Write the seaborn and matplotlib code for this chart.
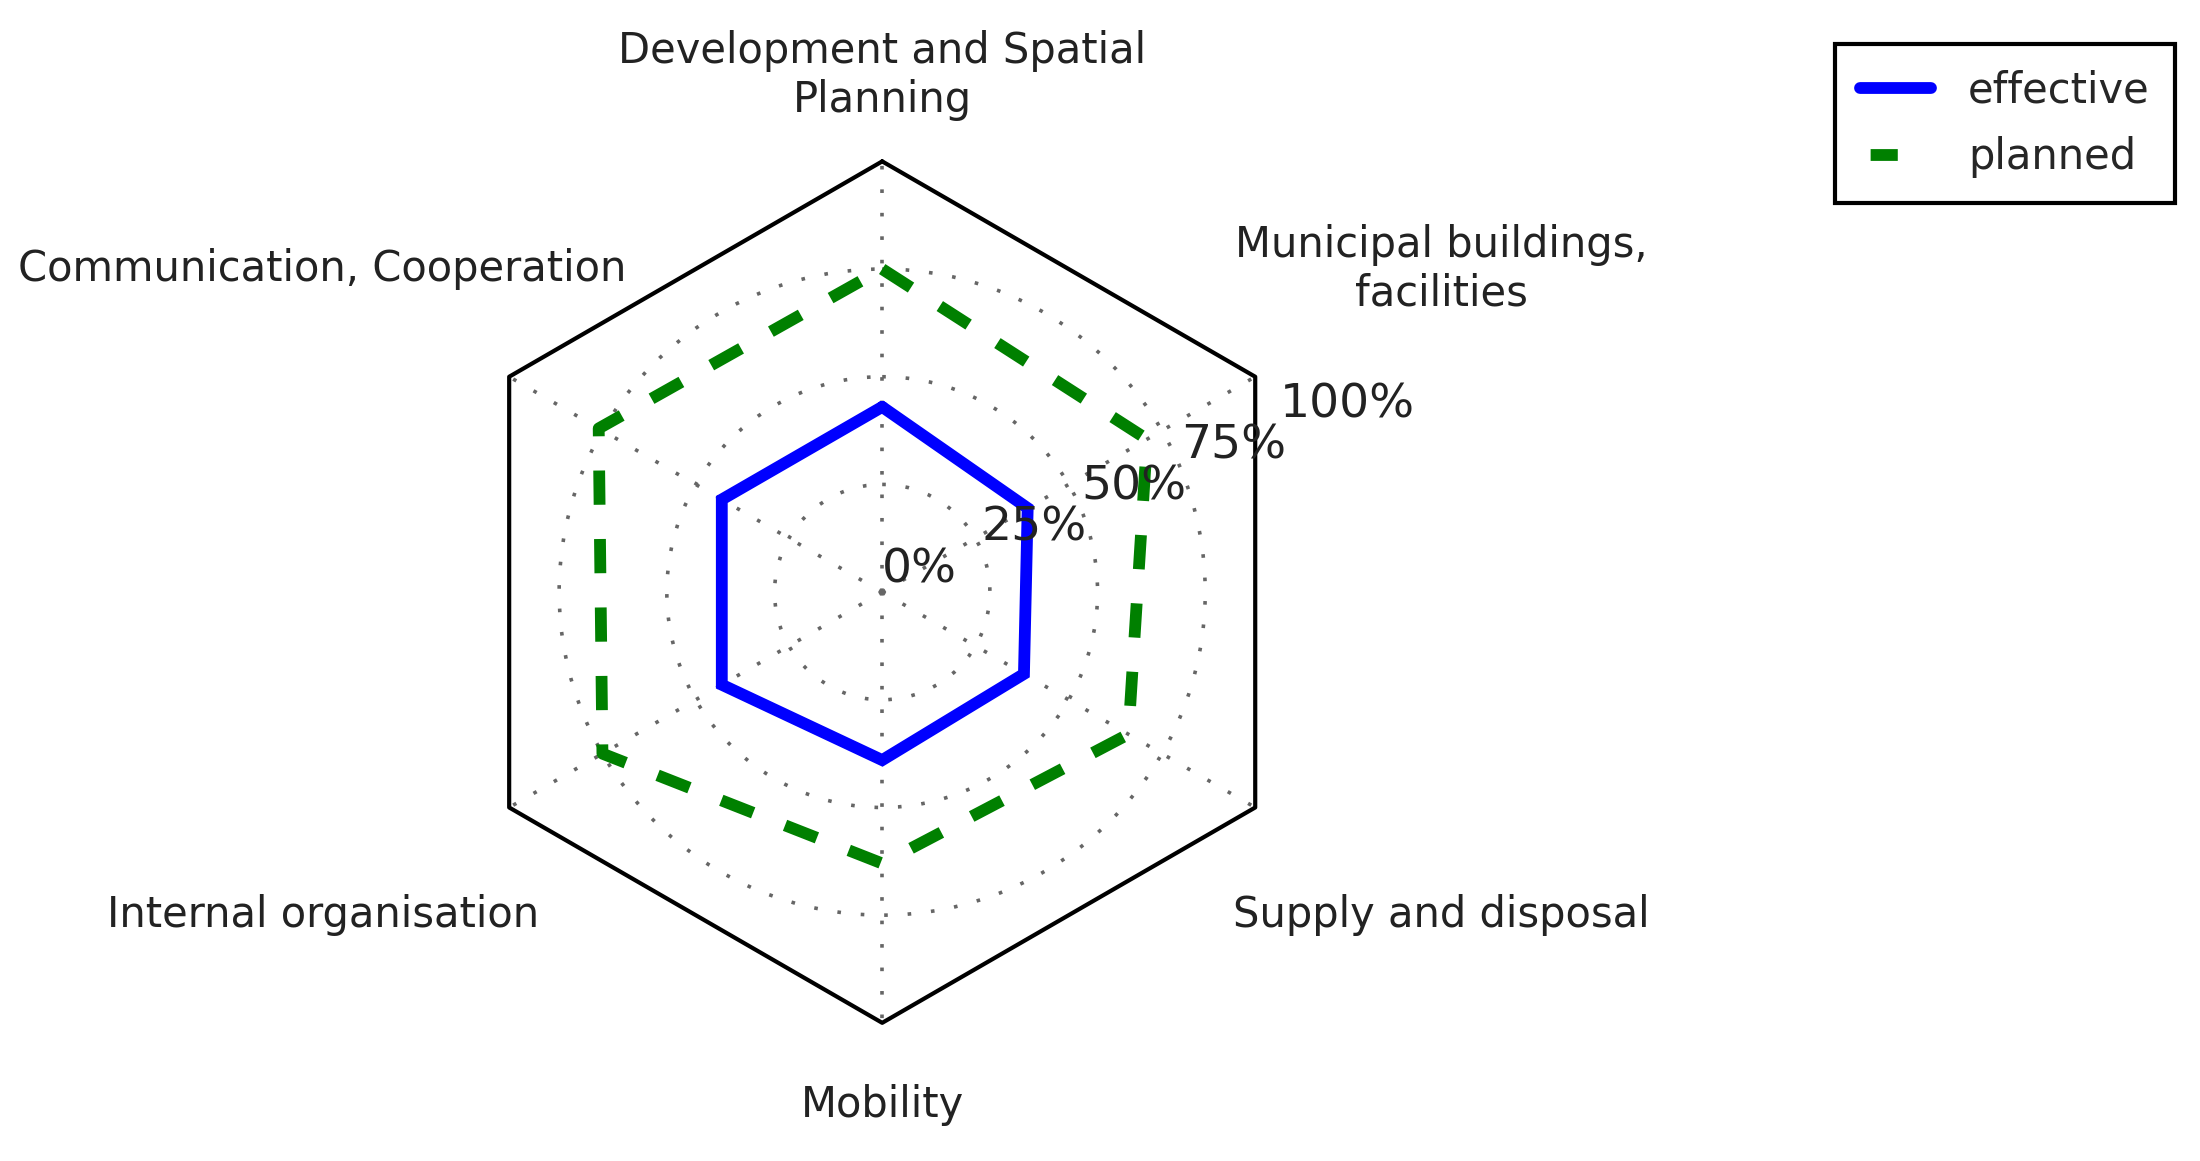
import numpy as np
import pandas as pd
import matplotlib
matplotlib.use("Agg")
import matplotlib.pyplot as plt
from matplotlib.lines import Line2D
import seaborn as sns

# categories clockwise from the top
categories = ["Development and Spatial\nPlanning",
              "Municipal buildings,\nfacilities",
              "Supply and disposal",
              "Mobility",
              "Internal organisation",
              "Communication, Cooperation"]
effective = [43, 39, 38, 39, 43, 43]   # percent
planned = [75, 71, 66, 63, 75, 76]     # percent
series_names = ["effective", "planned"]
tick_values = [0, 25, 50, 75, 100]
tick_labels = ["0%", "25%", "50%", "75%", "100%"]

sns.set_style("white")
plt.rcParams["font.family"] = ["DejaVu Sans"]

n = len(categories)
angles = np.linspace(0, 2 * np.pi, n, endpoint=False)

# long table, polygons closed by repeating the first point
rows = []
for name, vals in zip(series_names, [effective, planned]):
    for i in range(n + 1):
        rows.append({"theta": angles[i % n] if i < n else 2 * np.pi,
                     "r": vals[i % n] / 100.0, "series": name})
df = pd.DataFrame(rows)

fig = plt.figure(figsize=(22, 11.61), dpi=100)
ax = fig.add_axes([0.205, 0.119, 0.392, 0.742], projection="polar")
ax.set_theta_zero_location("N")
ax.set_theta_direction(-1)
ax.set_ylim(0, 1)

LW = 8.5
DASH = (2.9, 2.9)
colors = {"effective": "#0000ff", "planned": "#008000"}
sns.lineplot(data=df, x="theta", y="r", hue="series", style="series",
             palette=colors, dashes={"effective": "", "planned": DASH},
             sort=False, estimator=None, ax=ax, legend=False)
lines = list(ax.lines[:2])
for ln in lines:
    ln.set_linewidth(LW)
    ln.set_solid_joinstyle("miter")
lines[1].set_dashes(DASH)

# hexagonal frame
ax.plot(np.append(angles, 2 * np.pi), [1.0] * (n + 1), color="black",
        linewidth=3.0, clip_on=False)
ax.spines["polar"].set_visible(False)
ax.patch.set_visible(False)

ax.set_xticks(angles)
ax.set_xticklabels([])
ax.set_yticks([v / 100.0 for v in tick_values[1:-1]])
ax.set_yticklabels([])
ax.tick_params(length=0)
ax.grid(True, color="0.4", linestyle=(0, (1, 5.5)), linewidth=2.6)
ax.set_xlabel("")
ax.set_ylabel("")

# category labels
label_r = [1.20, 1.50, 1.50, 1.19, 1.50, 1.50]
for a, lab, rr in zip(angles, categories, label_r):
    ax.text(a, rr, lab, ha="center", va="center", fontsize=30,
            color="#222222", multialignment="center")

# radial value labels
lab_angle = np.deg2rad(67.5)
for v, lab in zip(tick_values, tick_labels):
    ax.text(lab_angle, v / 100.0, lab, ha="left", va="bottom", fontsize=34,
            color="#222222")

# legend: the dashed handle shows a single short dash, as in the original
leg_handles = [Line2D([], [], color=colors["effective"], linewidth=LW),
               Line2D([], [], color=colors["planned"], linewidth=LW,
                      linestyle=(11.4, (2.3, 10.0)))]
leg = ax.legend(leg_handles, series_names, loc="upper left",
                bbox_to_anchor=(0.834, 0.962), bbox_transform=fig.transFigure,
                borderaxespad=0, fontsize=30, frameon=True, fancybox=False,
                framealpha=1, edgecolor="black", handlelength=1.7,
                handletextpad=0.9, borderpad=0.6, labelspacing=0.6)
leg.get_frame().set_linewidth(3.0)

fig.savefig("out.png", dpi=100)
